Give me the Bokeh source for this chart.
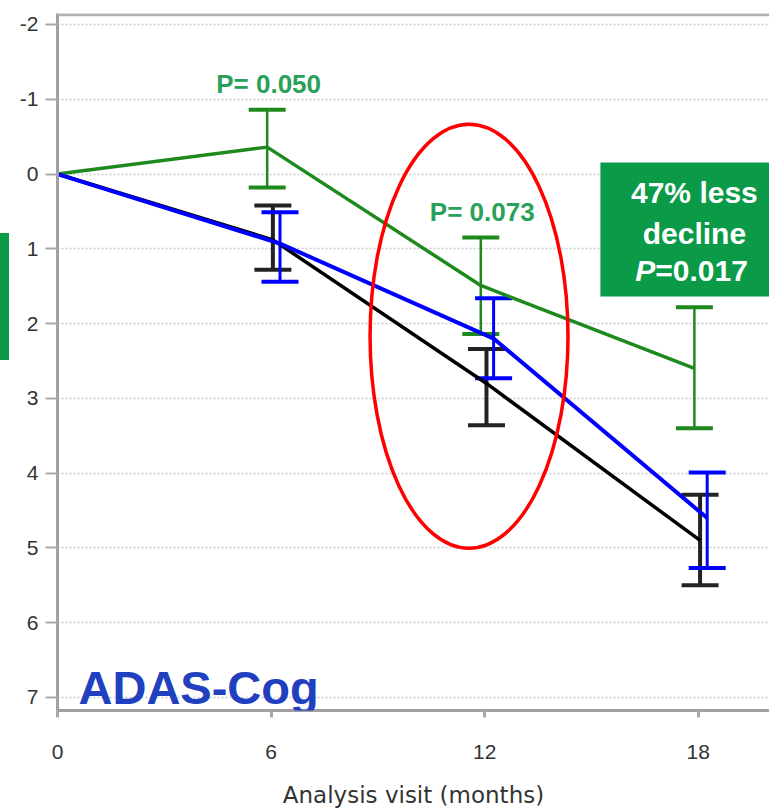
from bokeh.plotting import figure
from bokeh.layouts import row
from bokeh.models import (Range1d, FixedTicker, Whisker, TeeHead, ColumnDataSource,
                          Span, BoxAnnotation, Label, PrintfTickFormatter, Div)
from bokeh.embed import file_html
from bokeh.resources import INLINE

# ---------------- data ----------------
months = [0, 6, 12, 18]
x_ticks = [0, 6, 12, 18]
y_ticks = [-2, -1, 0, 1, 2, 3, 4, 5, 6, 7]

green_change = [0.0, -0.36, 1.49, 2.60]
green_err_top = [-0.86, 0.85, 1.78]
green_err_bottom = [0.18, 2.14, 3.40]

blue_change = [0.0, 0.93, 2.20, 4.60]
blue_err_top = [0.51, 1.66, 3.99]
blue_err_bottom = [1.44, 2.73, 5.27]

black_change = [0.0, 0.88, 2.80, 4.90]
black_err_top = [0.42, 2.34, 4.29]
black_err_bottom = [1.28, 3.36, 5.50]

p_labels = ["P= 0.050", "P= 0.073"]
p_label_months = [6, 12]
p_label_y = [-1.21, 0.51]
box_lines = ["47% less", "decline"]
box_p_value = "=0.017"

GREEN_BOX = "#0a9a48"

# ---------------- figure ----------------
p = figure(width=760, height=811, output_backend="svg", toolbar_location=None,
           x_range=Range1d(0, 20), y_range=Range1d(7.174, -2.147),
           min_border_left=48, min_border_right=0, min_border_top=13,
           min_border_bottom=101, background_fill_color="white",
           border_fill_color="white", margin=0)
p.outline_line_color = None

tick_font = "Liberation Sans"
p.xaxis.ticker = FixedTicker(ticks=x_ticks)
p.yaxis.ticker = FixedTicker(ticks=y_ticks)
p.yaxis.formatter = PrintfTickFormatter(format="%d")
for ax in (p.xaxis[0], p.yaxis[0]):
    ax.minor_tick_line_color = None
    ax.major_tick_in = 0
    ax.axis_line_color = "#a0a0a0"
    ax.axis_line_width = 3
    ax.major_tick_line_color = "#a8a8a8"
    ax.major_label_text_font = tick_font
    ax.major_label_text_font_size = "21px"
    ax.major_label_text_color = "#333333"
p.xaxis.major_tick_out = 7
p.xaxis.major_tick_line_width = 3
p.xaxis.major_label_standoff = 27
p.yaxis.major_tick_out = 12
p.yaxis.major_tick_line_width = 2
p.yaxis.major_label_standoff = 7
p.xaxis.axis_label = "Analysis visit (months)"
p.xaxis.axis_label_text_font = "DejaVu Sans"
p.xaxis.axis_label_text_font_size = "23px"
p.xaxis.axis_label_text_font_style = "normal"
p.xaxis.axis_label_text_color = "#333333"
p.xaxis.axis_label_standoff = 20

p.xgrid.visible = False
p.ygrid.grid_line_color = "#cccccc"
p.ygrid.grid_line_dash = "2 2"
p.ygrid.grid_line_width = 1.5

# top frame line
p.add_layout(Span(location=-2.13, dimension="width", line_color="#b0b0b0", line_width=3))

# green result box
p.add_layout(BoxAnnotation(left=15.25, right=20, top=-0.155, bottom=1.636,
                           fill_color=GREEN_BOX, fill_alpha=1, line_color=None))

series = [
    ("black", black_change, black_err_top, black_err_bottom, 0.05, "#000000", 3.5, "#222222", 4),
    ("green", green_change, green_err_top, green_err_bottom, -0.11, "#1e8a1e", 3.5, "#1e8a1e", 2.5),
    ("blue", blue_change, blue_err_top, blue_err_bottom, 0.25, "#0000ff", 4, "#0000ff", 3),
]
for name, change, top, bottom, off, color, lw, stem_color, stem_w in series:
    xs = [m + (off if m > 0 else 0) for m in months]
    p.line(xs, change, line_color=color, line_width=lw)
    src = ColumnDataSource(dict(x=xs[1:], upper=top, lower=bottom))
    head = dict(size=37, line_color=stem_color, line_width=4)
    p.add_layout(Whisker(source=src, base="x", upper="upper", lower="lower",
                         line_color=stem_color, line_width=stem_w,
                         upper_head=TeeHead(**head), lower_head=TeeHead(**head)))

# red highlight ellipse
p.ellipse(x=[11.56], y=[2.17], width=[5.56], height=[5.67], fill_color=None,
          line_color="#ff0000", line_width=3.5, level="overlay")

# p-value labels
for txt, m, yv in zip(p_labels, p_label_months, p_label_y):
    p.add_layout(Label(x=m - 0.07, y=yv, text=txt, text_align="center",
                       text_baseline="middle", text_font="Liberation Sans",
                       text_font_size="26px", text_font_style="bold",
                       text_color="#2aa05a"))

# box text
for txt, yv in zip(box_lines, [0.25, 0.79]):
    p.add_layout(Label(x=17.89, y=yv, text=txt, text_align="center",
                       text_baseline="middle", text_font="Liberation Sans",
                       text_font_size="30px", text_font_style="bold",
                       text_color="white"))
p.add_layout(Label(x=16.79, y=1.29, text="P", text_align="right",
                   text_baseline="middle", text_font="Liberation Sans",
                   text_font_size="30px", text_font_style="bold italic",
                   text_color="white"))
p.add_layout(Label(x=16.79, y=1.29, text=box_p_value, text_align="left",
                   text_baseline="middle", text_font="Liberation Sans",
                   text_font_size="30px", text_font_style="bold",
                   text_color="white"))

# scale name
p.add_layout(Label(x=0.59, y=6.865, text="ADAS-Cog", text_align="left",
                   text_baseline="alphabetic", text_font="Liberation Sans",
                   text_font_size="47px", text_font_style="bold",
                   text_color="#2040c0"))

# partial green tab at the left edge of the slide
tab = Div(text=('<div style="position:absolute;left:0;top:233px;width:9px;'
                'height:127px;background:%s"></div>' % GREEN_BOX),
          width=9, height=811, margin=0)

layout = row(tab, p, spacing=0, margin=0)
open("out.html", "w").write(file_html(layout, INLINE))
